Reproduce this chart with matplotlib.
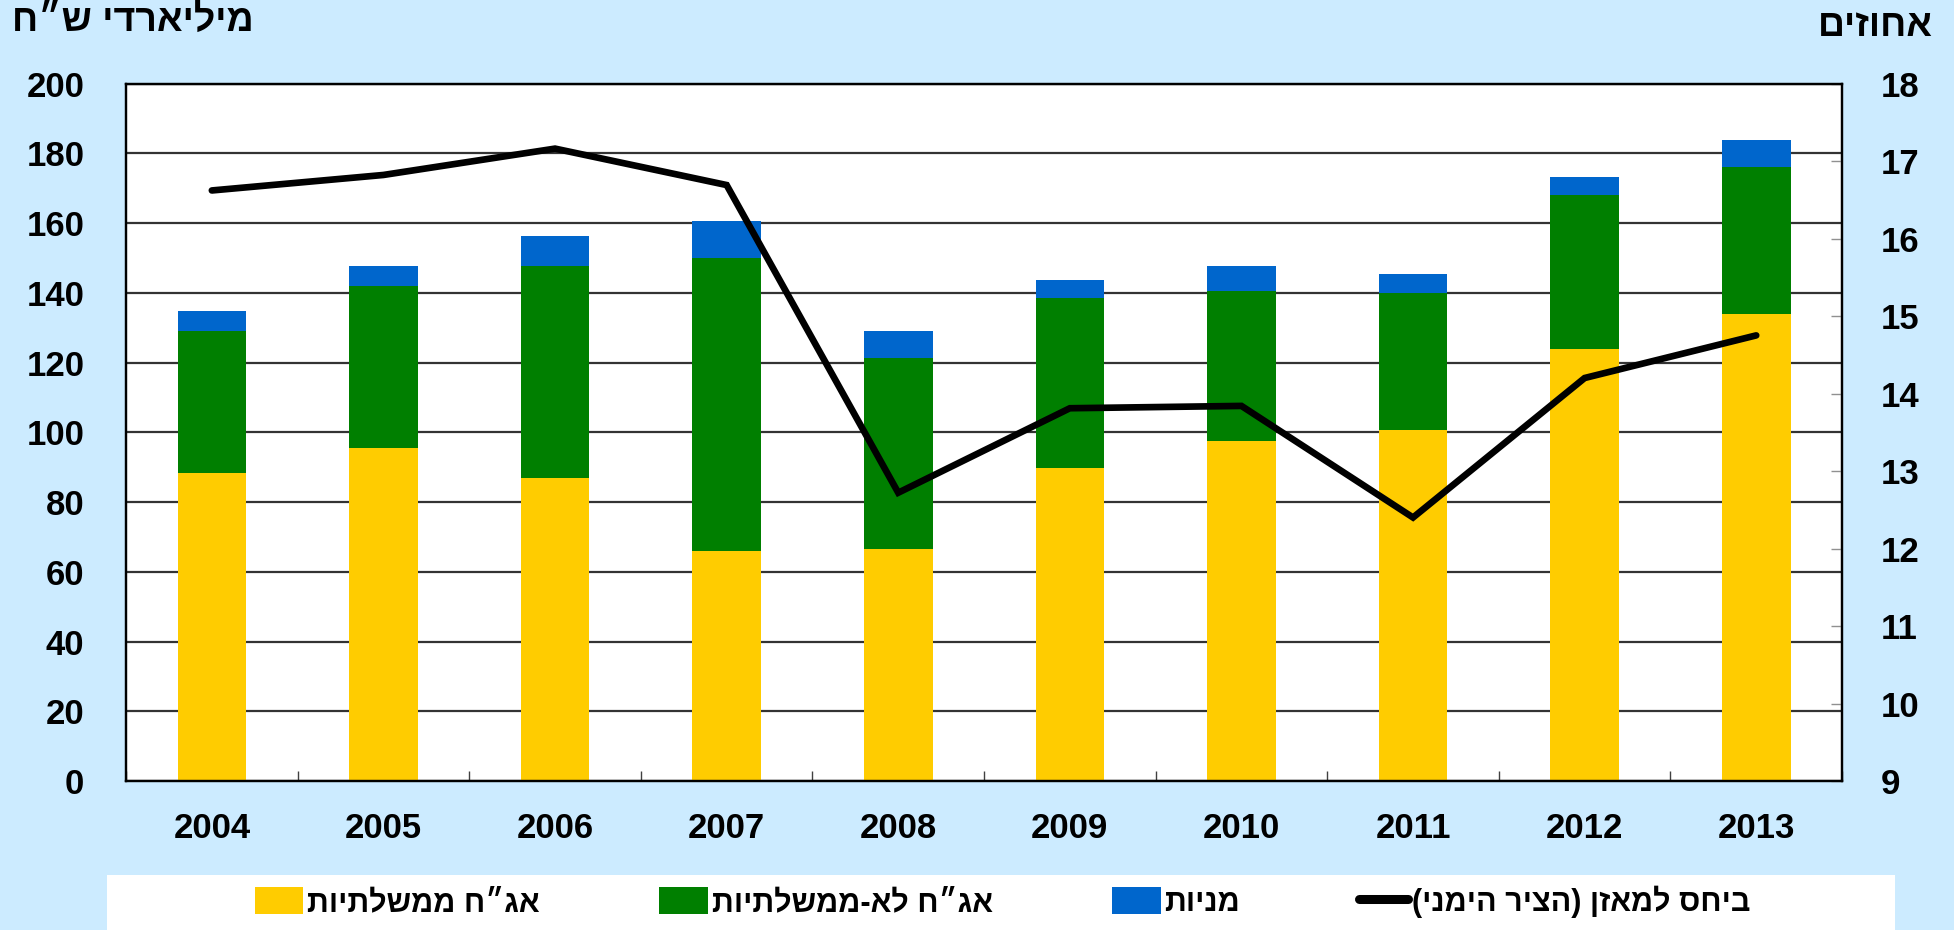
import numpy as np
import matplotlib
matplotlib.use("Agg")
import matplotlib.pyplot as plt
from matplotlib.lines import Line2D
from matplotlib.patches import Patch, Rectangle

years = ["2004", "2005", "2006", "2007", "2008", "2009", "2010", "2011", "2012", "2013"]
gov_bonds = [88.2, 95.5, 87.0, 66.0, 66.4, 89.8, 97.6, 100.7, 123.9, 133.8]
corp_top = [129.1, 142.0, 147.8, 150.1, 121.4, 138.6, 140.6, 140.0, 168.0, 176.2]
total_top = [134.8, 147.6, 156.4, 160.6, 128.9, 143.7, 147.7, 145.5, 173.2, 183.7]
pct_balance = [16.62, 16.82, 17.16, 16.69, 12.72, 13.81, 13.84, 12.40, 14.20, 14.75]

corp_bonds = np.array(corp_top) - np.array(gov_bonds)
stocks = np.array(total_top) - np.array(corp_top)

BG = "#CCEBFF"
YELLOW = "#FFCC00"
GREEN = "#007F00"
BLUE = "#0066CC"

num_font = ["Liberation Sans Narrow", "Liberation Sans", "DejaVu Sans"]
heb_font = ["Liberation Sans Narrow", "Liberation Sans", "DejaVu Sans"]


def heb(s):
    # matplotlib has no bidi, so flip hebrew text by hand
    return s[::-1].translate(str.maketrans("()", ")("))


fig = plt.figure(figsize=(19.54, 9.30), dpi=100, facecolor=BG)
ax = fig.add_axes([0.0645, 0.1602, 0.8782, 0.75])
ax.set_facecolor("white")

x = np.arange(len(years))
w = 0.40
ax.bar(x, gov_bonds, w, color=YELLOW, zorder=2)
ax.bar(x, corp_bonds, w, bottom=gov_bonds, color=GREEN, zorder=2)
ax.bar(x, stocks, w, bottom=corp_top, color=BLUE, zorder=2)

ax.set_xlim(-0.5, len(years) - 0.5)
ax.set_ylim(0, 200)
ax.set_yticks(np.arange(0, 201, 20))
ax.yaxis.grid(True, color="#333333", linewidth=1.6, zorder=1)
ax.set_axisbelow(True)
ax.set_xticks(x)
ax.set_xticks(np.arange(-0.5, len(years)), minor=True)
ax.set_xticklabels(years)
ax.tick_params(axis="x", which="both", direction="in", length=7, width=1, color="#404040", pad=22)
ax.tick_params(axis="y", length=0, pad=30)
for lab in ax.get_xticklabels() + ax.get_yticklabels():
    lab.set_family(num_font)
    lab.set_fontweight("bold")
    lab.set_fontsize(25)

ax2 = ax.twinx()
ax2.plot(x, pct_balance, color="black", linewidth=4.8, solid_capstyle="round",
         solid_joinstyle="miter", zorder=5)
ax2.set_ylim(9, 18)
ax2.set_yticks(np.arange(9, 19, 1))
ax2.tick_params(axis="y", direction="in", length=8, width=1, color="#909090", pad=28)
for lab in ax2.get_yticklabels():
    lab.set_family(num_font)
    lab.set_fontweight("bold")
    lab.set_fontsize(25)

for a in (ax, ax2):
    for sp in a.spines.values():
        sp.set_linewidth(1.6)
        sp.set_color("black")

fig.text(0.006, 0.977, heb("מיליארדי ש״ח"), ha="left", va="center",
         fontsize=27, fontweight="bold", family=heb_font)
fig.text(0.989, 0.972, heb("אחוזים"), ha="right", va="center",
         fontsize=27, fontweight="bold", family=heb_font)

# white strip behind the legend
fig.patches.append(Rectangle((0.055, 0.0), 0.915, 0.059, transform=fig.transFigure,
                             facecolor="white", edgecolor="none", zorder=0))

handles = [
    Patch(facecolor=YELLOW, edgecolor="none"),
    Patch(facecolor=GREEN, edgecolor="none"),
    Patch(facecolor=BLUE, edgecolor="none"),
    Line2D([0], [0], color="black", linewidth=6.5, solid_capstyle="round"),
]
labels = [heb("אג״ח ממשלתיות"), heb("אג״ח לא-ממשלתיות"), heb("מניות"), heb("ביחס למאזן (הציר הימני)")]
leg = fig.legend(handles, labels, loc="center", bbox_to_anchor=(0.513, 0.030), ncol=4,
                 frameon=False, handlelength=1.6, handleheight=1.0, handletextpad=0.12,
                 columnspacing=3.9, prop={"family": heb_font, "weight": "bold", "size": 22})

fig.savefig("out.png", dpi=100, facecolor=BG)
